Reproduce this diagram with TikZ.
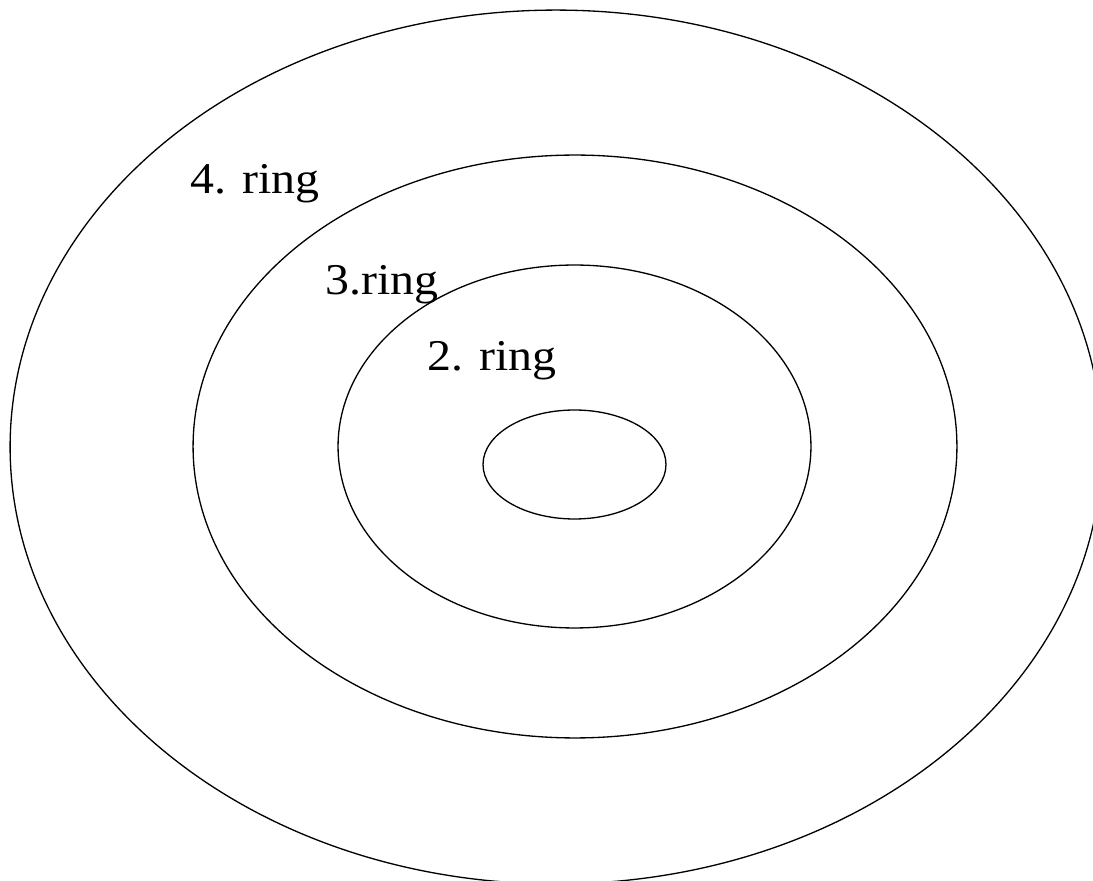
\documentclass[tikz,border=0pt]{standalone}
\usepackage{fontspec}
\setmainfont{Liberation Serif}[FakeStretch=1.09]
\usetikzlibrary{shapes.geometric}

\begin{document}
\begin{tikzpicture}[
    x=0.02cm, y=-0.02cm,
    ring/.style={ellipse, draw, line width=0.75pt, inner sep=0pt},
    ringlabel/.style={anchor=base west, inner sep=0pt, font=\fontsize{25}{30}\selectfont}
]
\useasboundingbox (0,0) rectangle (1093,881);
\clip (0,0) rectangle (1093,881);

% Rings
\node[ring, minimum width=21.84cm, minimum height=17.48cm] (ring4) at (556,447) {};
\node[ring, minimum width=15.28cm, minimum height=11.66cm] (ring3) at (575,446.5) {};
\node[ring, minimum width=9.46cm, minimum height=7.26cm] (ring2) at (574.5,446.5) {};
\node[ring, minimum width=3.66cm, minimum height=2.18cm] (ring1) at (574.5,464.5) {};

% Labels
\node[ringlabel] (lab4) at (190,194) {4. ring};
\node[ringlabel] (lab3) at (325,295) {3.ring};
\node[ringlabel] (lab2) at (427,371) {2. ring};
\end{tikzpicture}
\end{document}
